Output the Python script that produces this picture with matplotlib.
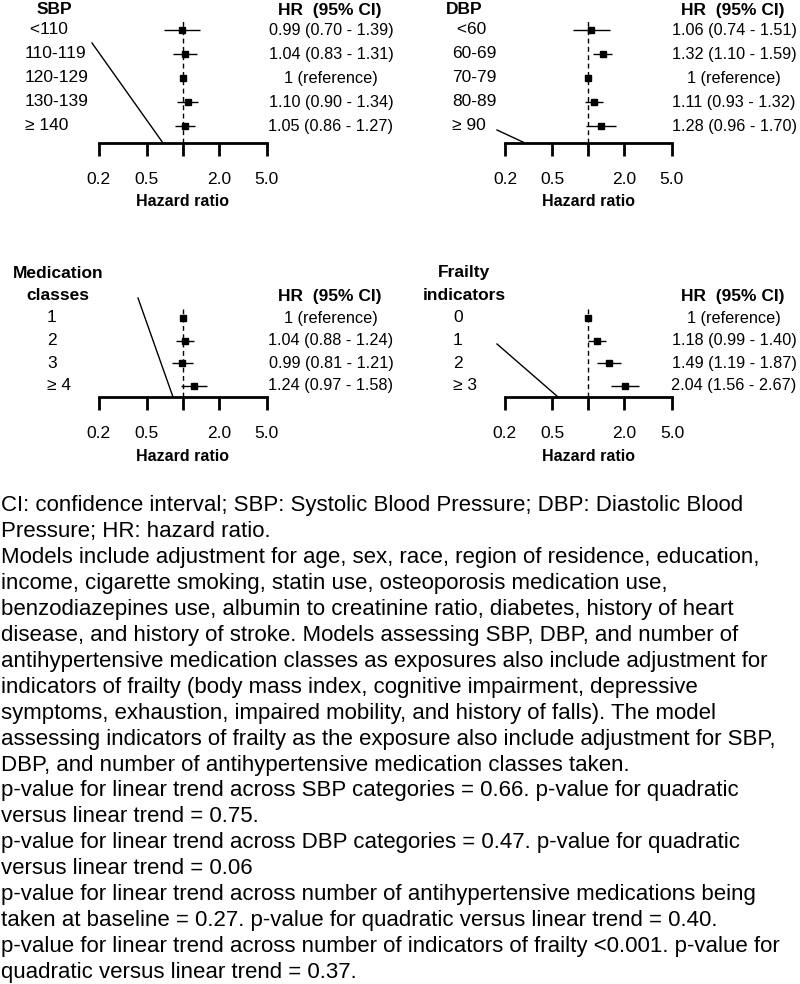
import numpy as np
import matplotlib
matplotlib.use('Agg')
import matplotlib.pyplot as plt
from matplotlib.lines import Line2D
from matplotlib.transforms import blended_transform_factory

plt.rcParams['font.family'] = ['Liberation Sans', 'DejaVu Sans']

W, H = 800, 984

# panel data
sbp_labels = [' <110', '110-119', '120-129', '130-139', '\u2265 140']
sbp_hr = [0.99, 1.04, 1.00, 1.10, 1.05]
sbp_lo = [0.70, 0.83, np.nan, 0.90, 0.86]
sbp_hi = [1.39, 1.31, np.nan, 1.34, 1.27]
sbp_txt = ['0.99 (0.70 - 1.39)', '1.04 (0.83 - 1.31)', '1 (reference)',
           '1.10 (0.90 - 1.34)', '1.05 (0.86 - 1.27)']

dbp_labels = [' <60', '60-69', '70-79', '80-89', '\u2265 90']
dbp_hr = [1.06, 1.32, 1.00, 1.11, 1.28]
dbp_lo = [0.74, 1.10, np.nan, 0.93, 0.96]
dbp_hi = [1.51, 1.59, np.nan, 1.32, 1.70]
dbp_txt = ['1.06 (0.74 - 1.51)', '1.32 (1.10 - 1.59)', '1 (reference)',
           '1.11 (0.93 - 1.32)', '1.28 (0.96 - 1.70)']

med_labels = ['1', '2', '3', '\u2265 4']
med_hr = [1.00, 1.04, 0.99, 1.24]
med_lo = [np.nan, 0.88, 0.81, 0.97]
med_hi = [np.nan, 1.24, 1.21, 1.58]
med_txt = ['1 (reference)', '1.04 (0.88 - 1.24)', '0.99 (0.81 - 1.21)',
           '1.24 (0.97 - 1.58)']

frail_labels = ['0', '1', '2', '\u2265 3']
frail_hr = [1.00, 1.18, 1.49, 2.04]
frail_lo = [np.nan, 0.99, 1.19, 1.56]
frail_hi = [np.nan, 1.40, 1.87, 2.67]
frail_txt = ['1 (reference)', '1.18 (0.99 - 1.40)', '1.49 (1.19 - 1.87)',
             '2.04 (1.56 - 2.67)']

ticks = [0.2, 0.5, 1.0, 2.0, 5.0]
tick_labels = ['0.2', '0.5', '', '2.0', '5.0']

notes = [
    'CI: confidence interval; SBP: Systolic Blood Pressure; DBP: Diastolic Blood',
    'Pressure; HR: hazard ratio.',
    'Models include adjustment for age, sex, race, region of residence, education,',
    'income, cigarette smoking, statin use, osteoporosis medication use,',
    'benzodiazepines use, albumin to creatinine ratio, diabetes, history of heart',
    'disease, and history of stroke. Models assessing SBP, DBP, and number of',
    'antihypertensive medication classes as exposures also include adjustment for',
    'indicators of frailty (body mass index, cognitive impairment, depressive',
    'symptoms, exhaustion, impaired mobility, and history of falls). The model',
    'assessing indicators of frailty as the exposure also include adjustment for SBP,',
    'DBP, and number of antihypertensive medication classes taken.',
    'p-value for linear trend across SBP categories = 0.66. p-value for quadratic',
    'versus linear trend = 0.75.',
    'p-value for linear trend across DBP categories = 0.47. p-value for quadratic',
    'versus linear trend = 0.06',
    'p-value for linear trend across number of antihypertensive medications being',
    'taken at baseline = 0.27. p-value for quadratic versus linear trend = 0.40.',
    'p-value for linear trend across number of indicators of frailty <0.001. p-value for',
    'quadratic versus linear trend = 0.37.',
]

fig = plt.figure(figsize=(W / 100, H / 100), dpi=100)


def fx(x):
    return x / W


def fy(y):
    return 1 - y / H


def panel(x02, x5, r0, dr, axis_y, top_y, lab_x, title, title_y, head_y, val_x,
          labels, hr, lo, hi, txt, label_y):
    ax = fig.add_axes([fx(x02), fy(axis_y), (x5 - x02) / W, (axis_y - top_y) / H])
    ax.set_xscale('log')
    ax.set_xlim(0.2, 5.0)
    ax.set_ylim((axis_y - r0) / dr, (top_y - r0) / dr)
    for s in ['top', 'left', 'right']:
        ax.spines[s].set_visible(False)
    ax.spines['bottom'].set_linewidth(2)
    ax.set_yticks([])
    ax.set_xticks(ticks)
    ax.set_xticklabels(tick_labels)
    ax.minorticks_off()
    ax.tick_params(axis='x', direction='out', length=9, width=2, pad=12,
                   labelsize=12.5)
    ax.patch.set_visible(False)

    rows = np.arange(len(labels))
    ax.axvline(1.0, color='black', lw=1, ls=(0, (3.5, 2.5)))
    ax.hlines(rows, lo, hi, color='black', lw=1)
    ax.plot(hr, rows, 's', color='black', ms=4.8, clip_on=False)

    tr = blended_transform_factory(fig.transFigure, ax.transData)
    for i, (lab, t) in enumerate(zip(labels, txt)):
        ax.text(fx(lab_x), i, lab, transform=tr, ha='left', va='center',
                fontsize=12.5)
        ax.text(fx(val_x), i, t, transform=tr, ha='center', va='center',
                fontsize=11.7)

    cx = (x02 + x5) / 2
    for j, line in enumerate(title):
        fig.text(fx(title[line]), fy(title_y[j]), line, ha='center', va='center',
                 fontsize=12.5, fontweight='bold')
    fig.text(fx(val_x - 1), fy(head_y), 'HR  (95% CI)', ha='center', va='center',
             fontsize=12.5, fontweight='bold')
    fig.text(fx(cx), fy(label_y), 'Hazard ratio', ha='center', va='center',
             fontsize=11.5, fontweight='bold')
    return ax


panel(98.7, 266.7, 30, 24, 143, 20, 25, {'SBP': 54}, [10], 10, 331,
      sbp_labels, sbp_hr, sbp_lo, sbp_hi, sbp_txt, 202)
panel(505, 671.7, 30, 24, 143, 20, 452, {'DBP': 464}, [10], 10, 734,
      dbp_labels, dbp_hr, dbp_lo, dbp_hi, dbp_txt, 202)
panel(98.7, 266.7, 318, 22.6, 397, 309, 47, {'Medication': 58, 'classes': 58},
      [273, 295], 297, 331, med_labels, med_hr, med_lo, med_hi, med_txt, 457)
panel(504.5, 672, 318, 22.6, 397, 309, 453, {'Frailty': 464, 'indicators': 464},
      [273, 295], 297, 734, frail_labels, frail_hr, frail_lo, frail_hi,
      frail_txt, 457)

# stray diagonal strokes present in the source image
strays = [((92, 43), (163, 143)), ((497, 130), (525, 143)),
          ((138, 298), (173, 397)), ((497, 344), (558, 397))]
for (x1, y1), (x2, y2) in strays:
    fig.add_artist(Line2D([fx(x1), fx(x2)], [fy(y1), fy(y2)], color='black',
                          lw=1, transform=fig.transFigure))

# footnotes
y0, dy = 506, 25.9
for k, line in enumerate(notes):
    fig.text(fx(1), fy(y0 + k * dy), line, ha='left', va='center', fontsize=16)

fig.savefig('out.png', dpi=100)
